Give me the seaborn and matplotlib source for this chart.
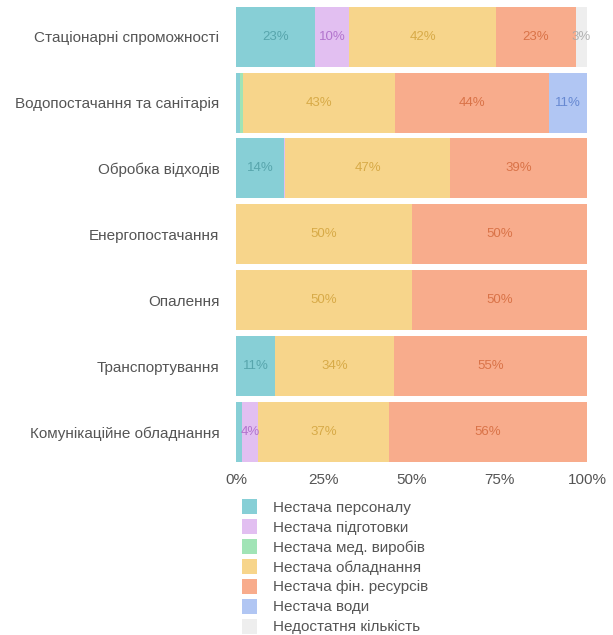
import colorsys
import numpy as np
import pandas as pd
import seaborn as sns
import matplotlib.pyplot as plt
from matplotlib.patches import Patch
import matplotlib.colors as mcolors

categories = ['Стаціонарні спроможності', 'Водопостачання та санітарія', 'Обробка відходів',
              'Енергопостачання', 'Опалення', 'Транспортування', 'Комунікаційне обладнання']

series = ['Нестача персоналу', 'Нестача підготовки', 'Нестача мед. виробів', 'Нестача обладнання',
          'Нестача фін. ресурсів', 'Нестача води', 'Недостатня кількість']

# shares in %, one list per series, in category order
personnel = [22.6, 1.0, 13.7, 0, 0, 11.1, 1.8]
training = [9.7, 0, 0.4, 0, 0, 0, 4.4]
med_goods = [0, 1.1, 0, 0, 0, 0, 0]
equipment = [41.9, 43.2, 46.9, 50, 50, 33.9, 37.4]
finance = [22.6, 43.9, 39.0, 50, 50, 55.0, 56.4]
water = [0, 10.8, 0, 0, 0, 0, 0]
quantity = [3.2, 0, 0, 0, 0, 0, 0]

colors = ['#87cfd6', '#e2bff1', '#a1e4b6', '#f7d58b', '#f8ac8c', '#b1c6f3', '#eeeeee']

values = [personnel, training, med_goods, equipment, finance, water, quantity]
df = pd.DataFrame(dict(zip(series, values)), index=categories)
cum = df.cumsum(axis=1)


def darker(c, f=0.7, fs=0.72):
    h, l, s = colorsys.rgb_to_hls(*mcolors.to_rgb(c))
    return colorsys.hls_to_rgb(h, l * f, s * fs)


sns.set_style('white')
plt.rcParams['font.family'] = ['Liberation Sans', 'DejaVu Sans']

fig = plt.figure(figsize=(6.13, 6.35), dpi=100)
ax = fig.add_axes([0.385, 0.268, 0.5726, 0.726])

# stacked bars: draw cumulative totals from the last series back to the first
for s, c in reversed(list(zip(series, colors))):
    d = pd.DataFrame({'cat': categories, 'val': cum[s].values})
    sns.barplot(data=d, x='val', y='cat', orient='h', color=c, saturation=1,
                width=0.91, ax=ax, linewidth=0)

for i, cat in enumerate(categories):
    for s, c in zip(series, colors):
        v = df.loc[cat, s]
        if v >= 3:
            mid = cum.loc[cat, s] - v / 2
            ax.text(mid, i, f'{round(v)}%', ha='center', va='center', fontsize=9.5,
                    color=darker(c), alpha=0.85)

ax.set_xlim(0, 100)
ax.set_ylim(6.5, -0.5)
ax.set_xticks([0, 25, 50, 75, 100])
ax.set_xticklabels(['0%', '25%', '50%', '75%', '100%'])
ax.set_xlabel('')
ax.set_ylabel('')
ax.tick_params(axis='x', labelsize=11, colors='#555555', length=0, pad=6)
ax.tick_params(axis='y', labelsize=11, colors='#555555', length=0, pad=12)
for sp in ax.spines.values():
    sp.set_visible(False)

handles = [Patch(facecolor=c, edgecolor='none') for c in colors]
fig.legend(handles, series, loc='upper left', bbox_to_anchor=(0.395, 0.214),
           frameon=False, fontsize=11, labelcolor='#555555', handlelength=1.0,
           handleheight=1.1, handletextpad=1.0, labelspacing=0.29, borderpad=0,
           borderaxespad=0)

fig.savefig('out.png', dpi=100)
